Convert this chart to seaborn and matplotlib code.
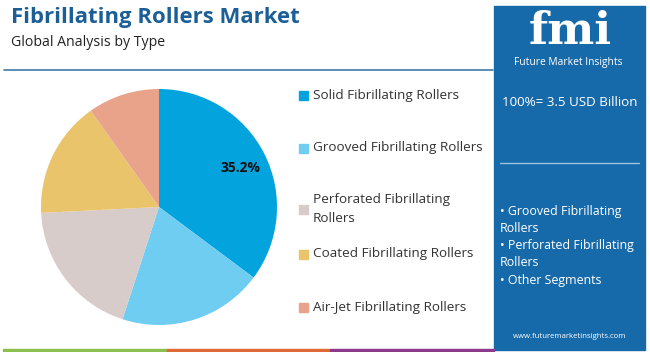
import matplotlib
matplotlib.use("Agg")
import matplotlib.pyplot as plt
import seaborn as sns

sns.set_theme(style="white")
plt.rcParams['font.family'] = ['Open Sans', 'DejaVu Sans']

# data
segments = ["Solid Fibrillating Rollers", "Grooved Fibrillating Rollers",
            "Perforated Fibrillating\nRollers", "Coated Fibrillating Rollers",
            "Air-Jet Fibrillating Rollers"]
shares = [35.2, 19.8, 19.2, 16.0, 9.8]
colors = ["#03a4de", "#6fcdf1", "#d7ccc9", "#e9c46b", "#e9a38b"]
total_label = "100%= 3.5 USD Billion"
panel_bullets = ["• Grooved Fibrillating", "Rollers", "• Perforated Fibrillating",
                 "Rollers", "• Other Segments"]

fig = plt.figure(figsize=(6.5, 3.52), dpi=100)
W, H = 650, 352

def fx(x):
    return x / W

def fy(y):
    return 1 - y / H

# header
fig.text(fx(11), fy(18), "Fibrillating Rollers Market", fontsize=15.9,
         fontweight='bold', color='#1c5f97', va='center', ha='left')
fig.text(fx(11), fy(42), "Global Analysis by Type", fontsize=10.2,
         color='#222222', va='center', ha='left')
fig.add_artist(plt.Line2D([fx(4), fx(493)], [fy(70), fy(70)],
                          color='#3f79a8', lw=1.2))

# pie
ax = fig.add_axes([fx(41), fy(325), 236 / W, 236 / H])
wedges, _ = ax.pie(shares, colors=colors, startangle=90, counterclock=False,
                   wedgeprops=dict(linewidth=0))
ax.set_xlim(-1, 1)
ax.set_ylim(-1, 1)
ax.set_aspect('equal')
ax.text(0.69, 0.33, f"{shares[0]}%", fontsize=10, fontweight='bold',
        ha='center', va='center', color='#111111')

# legend
legend_y = [95, 148, 209, 254, 307]
for lab, c, y in zip(segments, colors, legend_y):
    fig.patches.append(plt.Rectangle((fx(299), fy(y + 4.5)), 9 / W, 9 / H,
                                     transform=fig.transFigure, color=c))
    fig.text(fx(313), fy(y), lab, fontsize=9.7, color='#333333',
             va='center', ha='left', linespacing=1.6)

# right panel
fig.patches.append(plt.Rectangle((fx(494), fy(350)), 151 / W, 344 / H,
                                 transform=fig.transFigure, color='#176aa9'))
fig.text(fx(570), fy(31), "fmi", fontsize=32, fontweight='bold', color='white',
         family='DejaVu Serif', ha='center', va='center')
fig.text(fx(568), fy(63), "Future Market Insights", fontsize=7.4, color='white',
         ha='center', va='center')
fig.text(fx(570), fy(103), total_label, fontsize=9.6, color='white',
         ha='center', va='center')
fig.add_artist(plt.Line2D([fx(500), fx(639)], [fy(163), fy(163)],
                          color='#9cc3e3', lw=1))
for i, t in enumerate(panel_bullets):
    fig.text(fx(500), fy(211 + i * 17.3), t, fontsize=8.9, color='white',
             ha='left', va='center')
fig.text(fx(570), fy(336), "www.futuremarketinsights.com", fontsize=5.6,
         color='white', ha='center', va='center')

# bottom strip
for x0, x1, c in [(3, 167, '#8bbf4f'), (167, 330, '#e06a36'), (330, 494, '#8e3a8c')]:
    fig.patches.append(plt.Rectangle((fx(x0), 0), (x1 - x0) / W, 3 / H,
                                     transform=fig.transFigure, color=c))

fig.savefig("out.png", dpi=100)
